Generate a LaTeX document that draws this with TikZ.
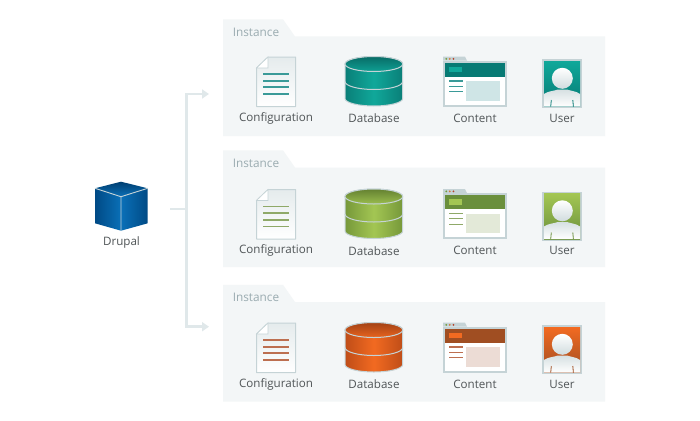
\documentclass[tikz,border=0pt]{standalone}
\usepackage{fontspec}
\setmainfont{Open Sans}
\usetikzlibrary{arrows.meta}
\definecolor{panelbg}{HTML}{F3F6F7}
\definecolor{rim}{HTML}{C5D3D6}
\definecolor{wire}{HTML}{E0E8EA}
\definecolor{labeltext}{HTML}{505557}
\definecolor{tabtext}{HTML}{9AABB0}
\definecolor{tealmain}{HTML}{10A89A}\definecolor{tealdark}{HTML}{077A74}\definecolor{tealedge}{HTML}{0A7F78}\definecolor{tealtint}{HTML}{CFE5E6}\definecolor{tealline}{HTML}{3A9A98}
\definecolor{greenmain}{HTML}{A3C653}\definecolor{greendark}{HTML}{6A8F3C}\definecolor{greenedge}{HTML}{76983A}\definecolor{greentint}{HTML}{E3E9D8}\definecolor{greenline}{HTML}{8FA968}
\definecolor{orangemain}{HTML}{F26A21}\definecolor{orangedark}{HTML}{A04E22}\definecolor{orangeedge}{HTML}{BF4D18}\definecolor{orangetint}{HTML}{ECDCD5}\definecolor{orangeline}{HTML}{BD6F50}
\definecolor{dotA}{HTML}{6F9F3C}\definecolor{dotB}{HTML}{D9763A}\definecolor{dotC}{HTML}{B5452E}
\tikzset{
  lbl/.style={text=labeltext,font=\fontsize{11.6}{13}\selectfont,inner sep=0pt,anchor=center},
  tablbl/.style={text=tabtext,font=\fontsize{11.8}{13}\selectfont,inner sep=0pt,anchor=center},
  wireline/.style={draw=wire,line width=2.6pt},
  wirearrow/.style={wireline,-{Triangle[length=7pt,width=9pt]}},
}
\newcommand{\instrow}[4]{%
\begin{scope}[shift={(0,#2)}]
  % panel
  \fill[panelbg] (223,36.5) -- (223,19.3) -- (283,19.3) -- (295,36.5) -- (605,36.5) -- (605,136) -- (223,136) -- cycle;
  \node[tablbl] (tab#1) at (256,32.3) {Instance};
\end{scope}
\begin{scope}[shift={(0,#3)}]
  % document
  \shadedraw[top color=rim!45,bottom color=white,draw=rim,line width=1pt,line join=round] (268,57) -- (295.5,57) -- (295.5,106.5) -- (256.5,106.5) -- (256.5,68) -- cycle;
  \fill[white,draw=rim,line width=.6pt] (268,57) -- (268,68) -- (256.5,68) -- cycle;
  \foreach \yy in {74,80.7,87.3,94}{\draw[#4line,line width=1.7pt] (263,\yy) -- (289,\yy);}
  \node[lbl] (cfg#1) at (276,118.2) {Configuration};
  % database
  \shadedraw[left color=#4edge,right color=#4edge,middle color=#4main,draw=rim,line width=1pt]
    (345,64) -- (345,98.5) arc[start angle=180,end angle=360,x radius=28.85pt,y radius=7.5pt] -- (402.7,64) arc[start angle=0,end angle=180,x radius=28.85pt,y radius=7.5pt] -- cycle;
  \shadedraw[top color=#4edge!85!black,bottom color=#4main!80!#4edge,draw=rim,line width=1pt] (373.85,64) ellipse[x radius=28.85pt,y radius=7.5pt];
  \draw[rim,line width=1pt] (345,81.5) arc[start angle=180,end angle=360,x radius=28.85pt,y radius=8pt];
  \node[lbl] (db#1) at (374,118.2) {Database};
  % content window
  \fill[rim] (443,60.7) -- (443,56.7) -- (465,56.7) -- (467,60.7) -- cycle;
  \fill[rim] (443.3,60.7) rectangle (506.7,106.7);
  \fill[white] (445.3,62.7) rectangle (504.7,104.7);
  \fill[#4dark] (445.3,62.7) rectangle (504.7,76.7);
  \fill[#4main] (449.3,66.7) rectangle (462,72);
  \fill[dotA] (446.3,58.9) circle[radius=1pt];
  \fill[dotB] (449.8,58.9) circle[radius=1pt];
  \fill[dotC] (453.4,58.9) circle[radius=1pt];
  \foreach \yy in {81,86.3,91.7}{\draw[#4line,line width=1.3pt] (449.3,\yy) -- (462.7,\yy);}
  \fill[#4tint] (466,81) rectangle (500,100.7);
  \node[lbl] (cnt#1) at (475,118.2) {Content};
  % user
  \fill[rim] (542.3,59) rectangle (582,108.3);
  \shade[top color=#4main,bottom color=#4dark] (544,61) rectangle (580,106.7);
  \shade[top color=rim!70,bottom color=white] (544,106.7) -- (544,94) .. controls (548,91) and (554,91) .. (558,89.5) -- (567,89.5) .. controls (571,91) and (576,91) .. (580,94) -- (580,106.7) -- cycle;
  \shade[top color=white,bottom color=rim!80] (562.3,78.3) circle[radius=10.5pt];
  \draw[#4dark,line width=.8pt] (551.3,100) -- (550.7,106.7) (572.8,100) -- (573.4,106.7);
  \node[lbl] (usr#1) at (562,118.2) {User};
\end{scope}}
\begin{document}
\begin{tikzpicture}[x=1pt,y=-1pt]
\useasboundingbox (0,0) rectangle (700,420);
\fill[white] (0,0) rectangle (700,420);
% rows
\instrow{A}{0}{0}{teal}
\instrow{B}{131}{132.5}{green}
\instrow{C}{265.5}{266}{orange}
% cube
\definecolor{cubedark}{HTML}{004A85}\definecolor{cubelight}{HTML}{0A70B8}
\shade[top color=cubedark!85!black,bottom color=cubelight] (121,181.7) -- (147.7,188.3) -- (121,196.7) -- (95,188.3) -- cycle;
\shade[left color=cubedark,right color=cubelight] (95,188.3) -- (121,196.7) -- (121,230.7) -- (95,223.3) -- cycle;
\shade[left color=cubelight,right color=cubedark] (121,196.7) -- (147.7,188.3) -- (147.7,223.3) -- (121,230.7) -- cycle;
\draw[rim,line width=.9pt,line join=round] (95,188.3) -- (121,196.7) -- (147.7,188.3) (121,196.7) -- (121,230.7);
\node[lbl] (drupal) at (121.5,242.2) {Drupal};
% connectors
\coordinate (src) at (170,209);
\coordinate (hub) at (186.7,209);
\coordinate (endA) at (209,94);
\coordinate (endC) at (209,326.7);
\draw[wireline] (src) -- (hub);
\draw[wirearrow] (hub) |- (endA);
\draw[wirearrow] (hub) |- (endC);
\end{tikzpicture}
\end{document}
